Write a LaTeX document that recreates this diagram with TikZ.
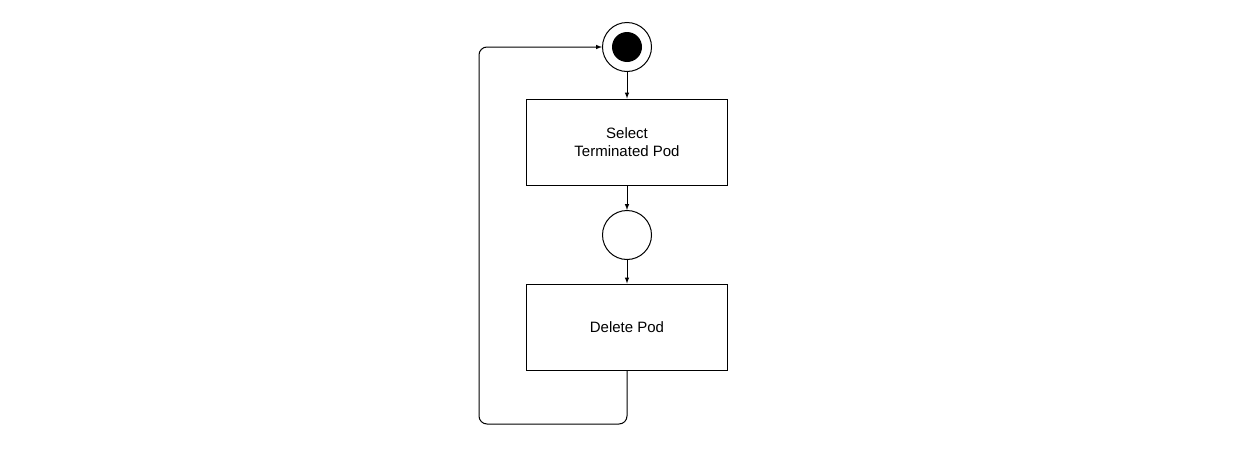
\documentclass[tikz,border=0pt]{standalone}
\usepackage{fontspec}
\setmainfont{Liberation Sans}
\begin{document}
\begin{tikzpicture}[x=1pt,y=-1pt,line width=1pt,
    every node/.style={font=\fontsize{15}{18}\selectfont},
    action/.style={draw,minimum width=201pt,minimum height=86pt,align=center},
    state/.style={draw,circle,minimum size=49pt,inner sep=0pt}]
      \useasboundingbox (0,0) rectangle (1254,450);
      \node[state] (start) at (627,47) {};
      \fill (start.center) circle (15pt);
      \node[action] (select) at (627,142) {Select\\Terminated Pod};
      \node[state] (wait) at (627,235) {};
      \node[action] (delete) at (627,327) {Delete Pod};
      \coordinate (back) at (479,424);
      \draw[->,>=latex] (start) -- (select);
      \draw[->,>=latex] (select) -- (wait);
      \draw[->,>=latex] (wait) -- (delete);
      \draw[->,>=latex,rounded corners=8pt] (delete.south) |- (back) |- (start.west);
    \end{tikzpicture}
\end{document}
